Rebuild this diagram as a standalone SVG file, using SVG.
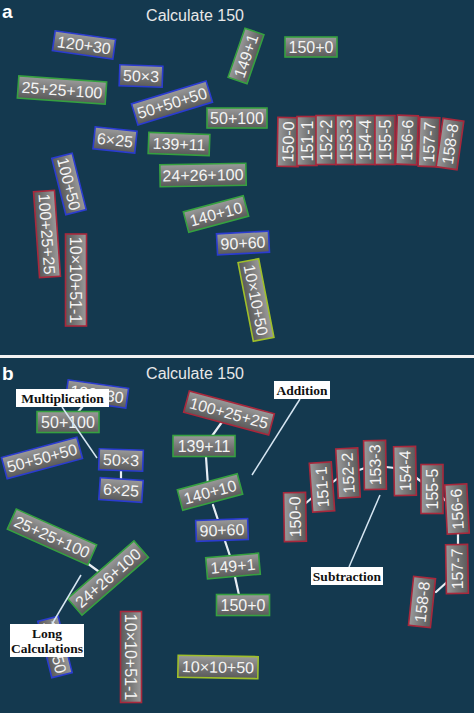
<svg xmlns="http://www.w3.org/2000/svg" width="474" height="713" viewBox="0 0 474 713">
<defs>
<linearGradient id="gr" x1="0" y1="0" x2="0" y2="1">
<stop offset="0" stop-color="#9a9a9a"/>
<stop offset="0.5" stop-color="#787878"/>
<stop offset="1" stop-color="#5a5a5a"/>
</linearGradient>
</defs>
<style>
.tile rect{fill:url(#gr);stroke-width:1.6}
.tile text{font-family:"Liberation Sans",Arial,sans-serif;font-size:16px;fill:#f4f4f4;text-anchor:middle}
.b rect{stroke:#2b3cd0}
.g rect{stroke:#36a040}
.r rect{stroke:#a8283c}
.y rect{stroke:#9fbf2a}
.title{font-family:"Liberation Sans",Arial,sans-serif;font-size:16px;fill:#e8e8e8;text-anchor:middle}
.panel{font-family:"Liberation Sans",Arial,sans-serif;font-size:19px;font-weight:bold;fill:#ffffff}
.conn line{stroke:#e8eef4;stroke-width:2.2;stroke-linecap:round}
.ptr line{stroke:#d6e6f2;stroke-width:1.5}
.lab rect{fill:#ffffff}
.lab text{font-family:"Liberation Serif","Times New Roman",serif;font-size:13.5px;font-weight:bold;fill:#111;text-anchor:middle}
</style>
<rect x="0" y="0" width="474" height="713" fill="#14394f"/>
<rect x="0" y="355" width="474" height="3" fill="#f2f2f2"/>
<text class="panel" x="2" y="18">a</text>
<text class="panel" x="2" y="380">b</text>
<text class="title" x="195" y="21">Calculate 150</text>
<text class="title" x="195" y="379">Calculate 150</text>

<g id="connectors" class="conn">
<line x1="78" y1="412" x2="83" y2="406"/>
<line x1="121" y1="471" x2="121" y2="479"/>
<line x1="222" y1="422" x2="212" y2="436"/>
<line x1="206" y1="457" x2="208" y2="486"/>
<line x1="213" y1="505" x2="218" y2="520"/>
<line x1="225" y1="541" x2="230" y2="556"/>
<line x1="235" y1="577" x2="239" y2="595"/>
<line x1="87" y1="563" x2="98" y2="571"/>
<line x1="306" y1="503" x2="313" y2="497"/>
<line x1="333" y1="482" x2="338" y2="478"/>
<line x1="359" y1="470" x2="365" y2="468"/>
<line x1="386" y1="467" x2="395" y2="468"/>
<line x1="415" y1="477" x2="422" y2="482"/>
<line x1="442" y1="497" x2="447" y2="502"/>
<line x1="458" y1="534" x2="458" y2="545"/>
<line x1="447" y1="582" x2="436" y2="592"/>
</g>

<!-- panel a -->
<g id="a-120p30" class="tile b" transform="translate(84 45) rotate(8)"><rect x="-30.5" y="-10" width="61" height="20"/><text y="5.7">120+30</text></g>
<g id="a-50x3" class="tile b" transform="translate(141 76) rotate(2)"><rect x="-21.5" y="-10.5" width="43" height="21"/><text y="5.7">50×3</text></g>
<g id="a-25p25p100" class="tile g" transform="translate(62 90) rotate(4)"><rect x="-44" y="-11" width="88" height="22"/><text y="5.7">25+25+100</text></g>
<g id="a-50p50p50" class="tile b" transform="translate(172 103) rotate(-17)"><rect x="-39" y="-11" width="78" height="22"/><text y="5.7">50+50+50</text></g>
<g id="a-6x25" class="tile b" transform="translate(115 140) rotate(6)"><rect x="-21" y="-11" width="42" height="22"/><text y="5.7">6×25</text></g>
<g id="a-139p11" class="tile g" transform="translate(179 144) rotate(2)"><rect x="-30.5" y="-10.5" width="61" height="21"/><text y="5.7">139+11</text></g>
<g id="a-50p100" class="tile g" transform="translate(237 118)"><rect x="-30" y="-10" width="60" height="20"/><text y="5.7">50+100</text></g>
<g id="a-149p1" class="tile g" transform="translate(246 56) rotate(-71)"><rect x="-26" y="-10" width="52" height="20"/><text y="5.7">149+1</text></g>
<g id="a-150p0" class="tile g" transform="translate(311 47)"><rect x="-26" y="-10" width="52" height="20"/><text y="5.7">150+0</text></g>
<g id="a-150m0" class="tile r" transform="translate(288 142) rotate(-89)"><rect x="-24.5" y="-10.5" width="49" height="21"/><text y="5.7">150-0</text></g>
<g id="a-151m1" class="tile r" transform="translate(307 141) rotate(-90)"><rect x="-24.5" y="-10" width="49" height="20"/><text y="5.7">151-1</text></g>
<g id="a-152m2" class="tile r" transform="translate(326 140) rotate(-90)"><rect x="-24.5" y="-10" width="49" height="20"/><text y="5.7">152-2</text></g>
<g id="a-153m3" class="tile r" transform="translate(346 140) rotate(-90)"><rect x="-24.5" y="-10" width="49" height="20"/><text y="5.7">153-3</text></g>
<g id="a-154m4" class="tile r" transform="translate(365 140) rotate(-90)"><rect x="-24.5" y="-10" width="49" height="20"/><text y="5.7">154-4</text></g>
<g id="a-155m5" class="tile r" transform="translate(385 140) rotate(-90)"><rect x="-24.5" y="-10" width="49" height="20"/><text y="5.7">155-5</text></g>
<g id="a-156m6" class="tile r" transform="translate(407 140) rotate(-88)"><rect x="-24.5" y="-10.5" width="49" height="21"/><text y="5.7">156-6</text></g>
<g id="a-157m7" class="tile r" transform="translate(429 142) rotate(-88)"><rect x="-24.5" y="-10" width="49" height="20"/><text y="5.7">157-7</text></g>
<g id="a-158m8" class="tile r" transform="translate(450 144) rotate(-82)"><rect x="-24.5" y="-10.5" width="49" height="21"/><text y="5.7">158-8</text></g>
<g id="a-24p26p100" class="tile g" transform="translate(203 175) rotate(-1)"><rect x="-43" y="-11" width="86" height="22"/><text y="5.7">24+26+100</text></g>
<g id="a-100p50" class="tile b" transform="translate(69 184) rotate(76)"><rect x="-29" y="-10.5" width="58" height="21"/><text y="5.7">100+50</text></g>
<g id="a-100p25p25" class="tile r" transform="translate(47 234) rotate(86)"><rect x="-43" y="-10.5" width="86" height="21"/><text y="5.7">100+25+25</text></g>
<g id="a-10x10p51m1" class="tile r" transform="translate(76 280) rotate(90)"><rect x="-46" y="-10.5" width="92" height="21"/><text y="5.7">10×10+51-1</text></g>
<g id="a-140p10" class="tile g" transform="translate(216 214) rotate(-15)"><rect x="-31" y="-10.5" width="62" height="21"/><text y="5.7">140+10</text></g>
<g id="a-90p60" class="tile b" transform="translate(243 243) rotate(-3)"><rect x="-26" y="-10.5" width="52" height="21"/><text y="5.7">90+60</text></g>
<g id="a-10x10p50" class="tile y" transform="translate(256 300) rotate(79)"><rect x="-40" y="-10.5" width="80" height="21"/><text y="5.7">10×10+50</text></g>

<!-- panel b -->
<g id="b-120p30" class="tile b" transform="translate(97 394) rotate(8)"><rect x="-30.5" y="-10" width="61" height="20"/><text y="5.7">120+30</text></g>
<g id="b-50p100" class="tile g" transform="translate(68 422)"><rect x="-31" y="-10.5" width="62" height="21"/><text y="5.7">50+100</text></g>
<g id="b-50p50p50" class="tile b" transform="translate(42 458) rotate(-15)"><rect x="-39" y="-11" width="78" height="22"/><text y="5.7">50+50+50</text></g>
<g id="b-50x3" class="tile b" transform="translate(121 460) rotate(2)"><rect x="-22" y="-10.5" width="44" height="21"/><text y="5.7">50×3</text></g>
<g id="b-6x25" class="tile b" transform="translate(121 490) rotate(4)"><rect x="-21.5" y="-11" width="43" height="22"/><text y="5.7">6×25</text></g>
<g id="b-100p25p25" class="tile r" transform="translate(229 413) rotate(15)"><rect x="-44" y="-11" width="88" height="22"/><text y="5.7">100+25+25</text></g>
<g id="b-139p11" class="tile g" transform="translate(204 446)"><rect x="-31" y="-10.5" width="62" height="21"/><text y="5.7">139+11</text></g>
<g id="b-140p10" class="tile g" transform="translate(210 492) rotate(-15)"><rect x="-31" y="-10.5" width="62" height="21"/><text y="5.7">140+10</text></g>
<g id="b-90p60" class="tile b" transform="translate(222 530) rotate(-2)"><rect x="-26" y="-10.5" width="52" height="21"/><text y="5.7">90+60</text></g>
<g id="b-149p1" class="tile g" transform="translate(233 566) rotate(-5)"><rect x="-26.5" y="-10.5" width="53" height="21"/><text y="5.7">149+1</text></g>
<g id="b-150p0" class="tile g" transform="translate(243 605)"><rect x="-26.5" y="-10.5" width="53" height="21"/><text y="5.7">150+0</text></g>
<g id="b-150m0" class="tile r" transform="translate(295 517) rotate(-91)"><rect x="-24.5" y="-11" width="49" height="22"/><text y="5.7">150-0</text></g>
<g id="b-151m1" class="tile r" transform="translate(322 487) rotate(-94)"><rect x="-24.5" y="-11" width="49" height="22"/><text y="5.7">151-1</text></g>
<g id="b-152m2" class="tile r" transform="translate(348 473) rotate(-93)"><rect x="-24.5" y="-11" width="49" height="22"/><text y="5.7">152-2</text></g>
<g id="b-153m3" class="tile r" transform="translate(375 465) rotate(-91)"><rect x="-24.5" y="-11" width="49" height="22"/><text y="5.7">153-3</text></g>
<g id="b-154m4" class="tile r" transform="translate(405 471) rotate(-91)"><rect x="-24.5" y="-11" width="49" height="22"/><text y="5.7">154-4</text></g>
<g id="b-155m5" class="tile r" transform="translate(432 489) rotate(-90)"><rect x="-24.5" y="-11" width="49" height="22"/><text y="5.7">155-5</text></g>
<g id="b-156m6" class="tile r" transform="translate(457 509) rotate(-93)"><rect x="-24.5" y="-11" width="49" height="22"/><text y="5.7">156-6</text></g>
<g id="b-157m7" class="tile r" transform="translate(457 569) rotate(-91)"><rect x="-24.5" y="-11" width="49" height="22"/><text y="5.7">157-7</text></g>
<g id="b-158m8" class="tile r" transform="translate(422 602) rotate(-84)"><rect x="-24.5" y="-11" width="49" height="22"/><text y="5.7">158-8</text></g>
<g id="b-25p25p100" class="tile g" transform="translate(52 537) rotate(24)"><rect x="-44" y="-11" width="88" height="22"/><text y="5.7">25+25+100</text></g>
<g id="b-24p26p100" class="tile g" transform="translate(108 578) rotate(-41)"><rect x="-44" y="-11" width="88" height="22"/><text y="5.7">24+26+100</text></g>
<g id="b-100p50" class="tile b" transform="translate(55 647) rotate(76)"><rect x="-29" y="-10.5" width="58" height="21"/><text y="5.7">100+50</text></g>
<g id="b-10x10p51m1" class="tile r" transform="translate(131 657) rotate(90)"><rect x="-45.5" y="-10.5" width="91" height="21"/><text y="5.7">10×10+51-1</text></g>
<g id="b-10x10p50" class="tile y" transform="translate(218 667) rotate(1)"><rect x="-40" y="-11" width="80" height="22"/><text y="5.7">10×10+50</text></g>

<g id="pointers" class="ptr">
<line x1="62" y1="407" x2="97" y2="458"/>
<line x1="300" y1="399" x2="252" y2="475"/>
<line x1="349" y1="567" x2="380" y2="495"/>
<line x1="52" y1="624" x2="81" y2="575"/>
</g>

<g id="label-multiplication" class="lab"><rect x="16" y="389" width="93" height="18"/><text x="62.5" y="403">Multiplication</text></g>
<g id="label-addition" class="lab"><rect x="274" y="381" width="56" height="18"/><text x="302" y="395">Addition</text></g>
<g id="label-subtraction" class="lab"><rect x="311" y="567" width="72" height="18"/><text x="347" y="581">Subtraction</text></g>
<g id="label-long" class="lab"><rect x="10" y="624" width="74" height="33"/><text x="47" y="638">Long</text><text x="47" y="653">Calculations</text></g>
</svg>
